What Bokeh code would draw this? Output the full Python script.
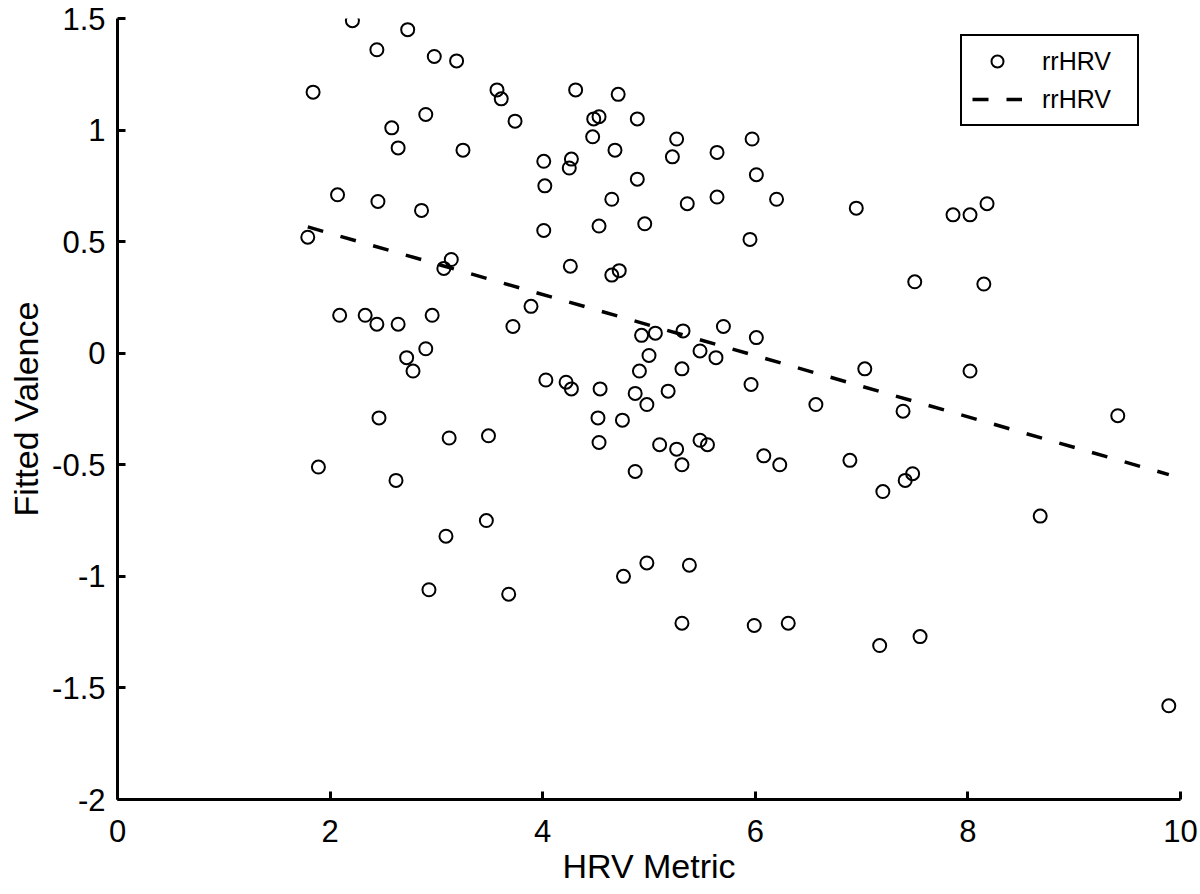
from bokeh.plotting import figure
from bokeh.models import Range1d, FixedTicker, Legend, LegendItem
from bokeh.core.properties import value
from bokeh.embed import file_html
from bokeh.resources import INLINE

# ---- data ----
hrv_x = [1.79, 1.84, 1.89, 2.07, 2.09, 2.21, 2.33, 2.44, 2.45, 2.44,
         2.46, 2.58, 2.64, 2.64, 2.62, 2.73, 2.72, 2.78, 2.86, 2.90,
         2.90, 2.96, 2.93, 2.98, 3.07, 3.14, 3.19, 3.12, 3.09, 3.25,
         3.49, 3.47, 3.57, 3.61, 3.68, 3.72, 3.74, 3.89, 4.01, 4.02,
         4.01, 4.03, 4.25, 4.27, 4.26, 4.22, 4.27, 4.31, 4.47, 4.48,
         4.53, 4.53, 4.52, 4.54, 4.53, 4.65, 4.65, 4.68, 4.72, 4.71,
         4.75, 4.76, 4.89, 4.89, 4.87, 4.87, 4.91, 4.93, 4.96, 4.98,
         5.00, 4.98, 5.06, 5.10, 5.18, 5.22, 5.26, 5.26, 5.31, 5.32,
         5.31, 5.31, 5.36, 5.38, 5.48, 5.48, 5.55, 5.63, 5.64, 5.64,
         5.70, 5.96, 5.95, 5.97, 6.01, 6.01, 5.99, 6.08, 6.20, 6.23,
         6.31, 6.57, 6.89, 6.95, 7.03, 7.20, 7.17, 7.39, 7.41, 7.48,
         7.50, 7.55, 7.86, 8.02, 8.02, 8.18, 8.15, 8.68, 9.41, 9.89]
valence_y = [0.52, 1.17, -0.51, 0.71, 0.17, 1.49, 0.17, 1.36, 0.68, 0.13,
             -0.29, 1.01, 0.92, 0.13, -0.57, 1.45, -0.02, -0.08, 0.64, 1.07,
             0.02, 0.17, -1.06, 1.33, 0.38, 0.42, 1.31, -0.38, -0.82, 0.91,
             -0.37, -0.75, 1.18, 1.14, -1.08, 0.12, 1.04, 0.21, 0.86, 0.75,
             0.55, -0.12, 0.83, 0.87, 0.39, -0.13, -0.16, 1.18, 0.97, 1.05,
             1.06, 0.57, -0.29, -0.16, -0.40, 0.69, 0.35, 0.91, 0.37, 1.16,
             -0.30, -1.00, 0.78, 1.05, -0.18, -0.53, -0.08, 0.08, 0.58, -0.23,
             -0.01, -0.94, 0.09, -0.41, -0.17, 0.88, 0.96, -0.43, -0.07, 0.10,
             -0.50, -1.21, 0.67, -0.95, 0.01, -0.39, -0.41, -0.02, 0.90, 0.70,
             0.12, -0.14, 0.51, 0.96, 0.80, 0.07, -1.22, -0.46, 0.69, -0.50,
             -1.21, -0.23, -0.48, 0.65, -0.07, -0.62, -1.31, -0.26, -0.57, -0.54,
             0.32, -1.27, 0.62, 0.62, -0.08, 0.67, 0.31, -0.73, -0.28, -1.58]
fit_x = [1.79, 9.89]
fit_y = [0.566, -0.544]

x_ticks = [0, 2, 4, 6, 8, 10]
x_tick_labels = ["0", "2", "4", "6", "8", "10"]
y_ticks = [-2, -1.5, -1, -0.5, 0, 0.5, 1, 1.5]
y_tick_labels = ["-2", "-1.5", "-1", "-0.5", "0", "0.5", "1", "1.5"]
series_label = "rrHRV"
x_title = "HRV Metric"
y_title = "Fitted Valence"

FONT = "Liberation Sans"

p = figure(width=1200, height=894, output_backend="svg", toolbar_location=None,
           x_range=Range1d(0, 10), y_range=Range1d(-2, 1.5),
           min_border_left=117, min_border_right=20, min_border_top=18,
           min_border_bottom=95)
p.outline_line_color = None
p.xgrid.visible = False
p.ygrid.visible = False
p.background_fill_color = "white"
p.border_fill_color = "white"

for ax, ticks, labels in ((p.xaxis[0], x_ticks, x_tick_labels),
                          (p.yaxis[0], y_ticks, y_tick_labels)):
    ax.ticker = FixedTicker(ticks=ticks)
    ax.major_label_overrides = dict(zip(ticks, labels))
    ax.axis_line_width = 3
    ax.axis_line_color = "black"
    ax.major_tick_line_width = 3
    ax.major_tick_line_color = "black"
    ax.major_tick_in = 8
    ax.major_tick_out = 0
    ax.minor_tick_line_color = None
    ax.major_label_text_font = FONT
    ax.major_label_text_font_size = "31px"
    ax.major_label_text_color = "black"
    ax.axis_label_text_font = FONT
    ax.axis_label_text_font_size = "34px"
    ax.axis_label_text_font_style = "normal"
    ax.axis_label_text_color = "black"

p.xaxis.axis_label = x_title
p.yaxis.axis_label = y_title
p.xaxis.major_label_standoff = 20
p.xaxis.axis_label_standoff = 2
p.yaxis.major_label_standoff = 12
p.yaxis.axis_label_standoff = 4

pts = p.scatter(hrv_x, valence_y, marker="circle", size=13, fill_color=None,
                line_color="black", line_width=2)
fit = p.line(fit_x, fit_y, line_color="black", line_width=3.5, line_dash="16 18")

legend = Legend(items=[LegendItem(label=value(series_label), renderers=[pts]),
                       LegendItem(label=value(series_label), renderers=[fit])],
                location=(843, 673), padding=10, spacing=8, margin=0,
                glyph_width=50, glyph_height=30, label_height=30, label_width=85,
                label_standoff=20, label_text_font=FONT,
                label_text_font_size="25px", label_text_color="black",
                border_line_color="black", border_line_width=2.5,
                border_line_alpha=1.0,
                background_fill_color="white", background_fill_alpha=1.0)
p.add_layout(legend)

open("out.html", "w").write(file_html(p, INLINE))
